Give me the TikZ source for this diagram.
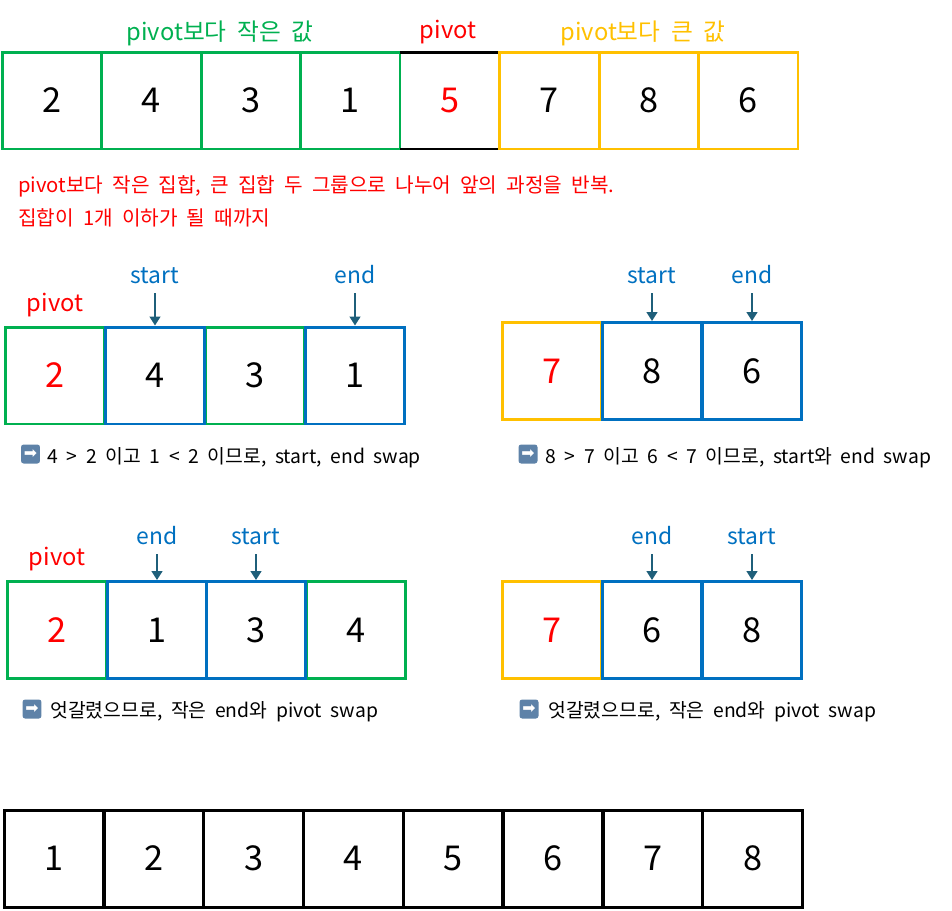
\documentclass[tikz,border=0pt]{standalone}
\usepackage{fontspec}
\setmainfont[WordSpace=2]{Noto Sans CJK KR}
\newfontfamily\symfont{DejaVu Sans}
\usetikzlibrary{arrows.meta}
\definecolor{grpgreen}{HTML}{00B050}
\definecolor{grpyellow}{HTML}{FFC000}
\definecolor{ptrblue}{HTML}{0070C0}
\definecolor{ptrarrow}{HTML}{1F5F7A}
\definecolor{iconblue}{HTML}{5E82A8}

\tikzset{
  cell/.style={minimum width=1.99cm, minimum height=1.94cm, inner sep=0pt, line width=1.7pt, font=\fontsize{19.5}{19.5}\selectfont},
  grplabel/.style={anchor=base, font=\fontsize{13.5}{13.5}\selectfont},
  ptrlabel/.style={anchor=base, text=ptrblue, font=\fontsize{13}{13}\selectfont},
  ptr/.style={ptrarrow, line width=1.1pt, shorten <=2pt, -{Triangle[length=5pt,width=6pt]}},
  note/.style={anchor=base west, inner sep=0pt, font=\fontsize{11}{11}\selectfont},
  icon/.style={fill=iconblue, rounded corners=1.5pt, minimum size=0.38cm, inner sep=0pt, text=white, font=\symfont\fontsize{9}{9}\selectfont}
}

\begin{document}
\begin{tikzpicture}[x=0.02cm, y=-0.02cm]
  \useasboundingbox (0,0) rectangle (952,910);

  % first split of the whole array
  \node[grplabel, text=grpgreen] (lsmall) at (220,40) {pivot보다 작은 값};
  \node[grplabel, text=red] (lpiv) at (448,38) {pivot};
  \node[grplabel, text=grpyellow] (lbig) at (643,40) {pivot보다 큰 값};
  \node[cell, draw=grpgreen] (a1) at (51.75,100.5) {2};
  \node[cell, draw=grpgreen] (a2) at (151.25,100.5) {4};
  \node[cell, draw=grpgreen] (a3) at (250.75,100.5) {3};
  \node[cell, draw=grpgreen] (a4) at (350.25,100.5) {1};
  \node[cell, outer sep=0pt, text=red] (a5) at (449.75,100.5) {5};
  \draw[line width=1.7pt] (a5.north west) -- (a5.north east) (a5.south west) -- (a5.south east);
  \node[cell, draw=grpyellow] (a6) at (549.25,100.5) {7};
  \node[cell, draw=grpyellow] (a7) at (648.75,100.5) {8};
  \node[cell, draw=grpyellow] (a8) at (748.25,100.5) {6};

  \node[note, text=red, font=\fontsize{11.5}{11.5}\selectfont] (t1) at (18,192) {pivot보다 작은 집합, 큰 집합 두 그룹으로 나누어 앞의 과정을 반복.};
  \node[note, text=red, font=\fontsize{11.5}{11.5}\selectfont] (t2) at (18,225) {집합이 1개 이하가 될 때까지};

  % left group, step 1
  \node[grplabel, text=red] (p1) at (55,311) {pivot};
  \node[cell, draw=grpgreen, text=red] (b1) at (55,375.5) {2};
  \node[cell, draw=grpgreen] (b3) at (255,375.5) {3};
  \node[cell, draw=ptrblue] (b2) at (155,375.5) {4};
  \node[cell, draw=ptrblue] (b4) at (355,375.5) {1};
  \node[ptrlabel] (s1) at (155,283) {start};
  \node[ptrlabel] (e1) at (355,283) {end};
  \draw[ptr] (s1.south) -- (b2.north);
  \draw[ptr] (e1.south) -- (b4.north);
  \node[icon] (i1) at (30.5,454) {➡};
  \node[note] (n1) at (47,463) {4 > 2 이고 1 < 2 이므로, start, end swap};

  % right group, step 1
  \node[cell, draw=grpyellow, text=red] (c1) at (552,371) {7};
  \node[cell, draw=ptrblue] (c2) at (652,371) {8};
  \node[cell, draw=ptrblue] (c3) at (752,371) {6};
  \node[ptrlabel] (s2) at (652,283) {start};
  \node[ptrlabel] (e2) at (752,283) {end};
  \draw[ptr] (s2.south) -- (c2.north);
  \draw[ptr] (e2.south) -- (c3.north);
  \node[icon] (i2) at (528,454) {➡};
  \node[note] (n2) at (545,463) {8 > 7 이고 6 < 7 이므로, start와 end swap};

  % left group, step 2
  \node[grplabel, text=red] (p2) at (57,565) {pivot};
  \node[cell, draw=grpgreen, text=red] (d1) at (57,630) {2};
  \node[cell, draw=grpgreen] (d4) at (356,630) {4};
  \node[cell, draw=ptrblue] (d2) at (157,630) {1};
  \node[cell, draw=ptrblue] (d3) at (256,630) {3};
  \node[ptrlabel] (e3) at (157,544) {end};
  \node[ptrlabel] (s3) at (256,544) {start};
  \draw[ptr] (e3.south) -- (d2.north);
  \draw[ptr] (s3.south) -- (d3.north);
  \node[icon] (i3) at (32,709) {➡};
  \node[note] (n3) at (50,717) {엇갈렸으므로, 작은 end와 pivot swap};

  % right group, step 2
  \node[cell, draw=grpyellow, text=red] (f1) at (552,630) {7};
  \node[cell, draw=ptrblue] (f2) at (652,630) {6};
  \node[cell, draw=ptrblue] (f3) at (752,630) {8};
  \node[ptrlabel] (e4) at (652,544) {end};
  \node[ptrlabel] (s4) at (752,544) {start};
  \draw[ptr] (e4.south) -- (f2.north);
  \draw[ptr] (s4.south) -- (f3.north);
  \node[icon] (i4) at (529,709) {➡};
  \node[note] (n4) at (548,717) {엇갈렸으므로, 작은 end와 pivot swap};

  % sorted result
  \foreach \v [count=\k] in {1,...,8}
    \node[cell, draw=black] (r\k) at ({54+(\k-1)*99.8},858.5) {\v};
\end{tikzpicture}
\end{document}
